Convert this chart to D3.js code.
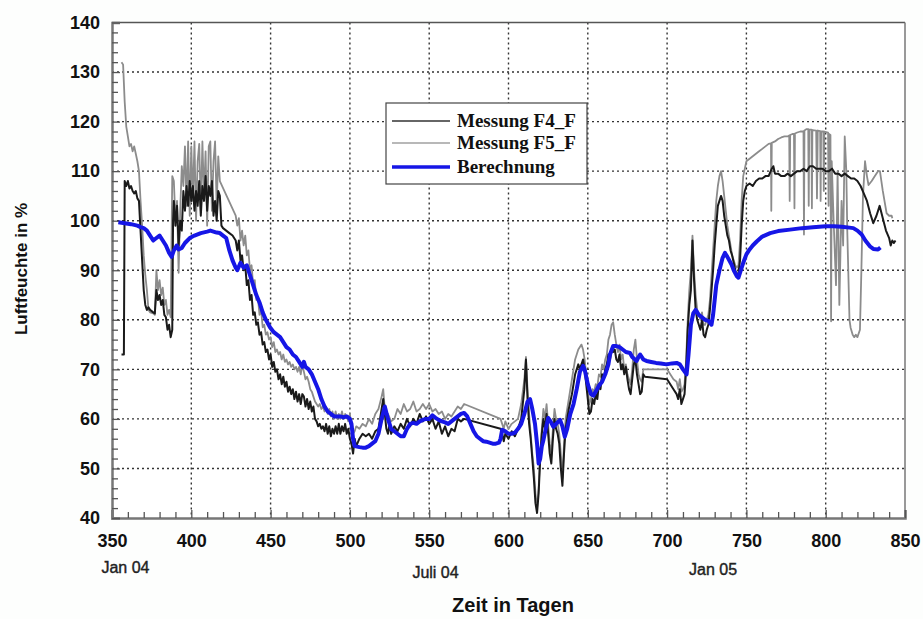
<!DOCTYPE html>
<html>
<head>
<meta charset="utf-8">
<script src="https://cdn.jsdelivr.net/npm/d3@7"></script>
<style>
  html, body { margin: 0; padding: 0; background: #fdfefd; }
  svg { display: block; }
</style>
</head>
<body>
<svg id="chart" width="923" height="619"></svg>
<script>
// ---------------- DATA ----------------
const xTicks = [350, 400, 450, 500, 550, 600, 650, 700, 750, 800, 850];
const yTicks = [40, 50, 60, 70, 80, 90, 100, 110, 120, 130, 140];
const dateLabels = ["Jan 04", "Juli 04", "Jan 05"];
const dateLabelDays = [358.5, 554, 729];
const seriesNames = ["Messung F4_F", "Messung F5_F", "Berechnung"];

// Messung F4_F  [day, %]
const f4 = [
[356,73],[357.5,73],[358,108],[359,107],[360,108],[361,106.5],[362,107],[363,106],[364,105.5],[365,106],[366,104.5],[367,104],
[368,98],[369,92],[370,86],[371,83],[372,82],[373,82.5],[374,82],[376,81.5],[377,81.3],[378,86],[379,84],[380,85],[381,83],
[382,84],[383,81],[384,80.5],[385,78],[386,79],[387,76.5],[388,78],[388.5,100],[389,104],[390,99],[391,103],[392,95],[393,100],
[394,98],[395,106],[396,102],[397,107],[398,103],[399,108],[400,104],[401,107],[402,102],[403,106],[404,103],[405,108],[406,101],
[407,107],[408,104],[409,109],[410,102],[411,107],[412,105],[413,108],[414,101],[415,104],[416,100],[417,106],[418,105],[419,99],
[420,98.5],[422,98],[424,97.5],[426,97],[428,96],[429,94],[430,96],[431,92],[432,93],[433,90],[434,91],[435,87],[436,88],
[437,84],[438,85],[439,81],[440,81.5],[441,79],[442,79.5],[443,77],[444,77.5],[445,75],[446,75.5],[447,73.5],[448,74],[449,72],
[450,73],[451,70.5],[452,71.5],[453,69.5],[454,70],[455,68],[456,69],[457,67],[458,68.5],[459,66.5],[460,67.5],[461,65.5],
[462,66.5],[463,65],[464,66],[465,64],[466,65.5],[467,63.5],[468,65],[469,63],[470,65],[471,64.5],[472,62.5],[473,64],[474,62],
[475,63.5],[476,61.5],[477,62.5],[478,60],[479,59.5],[480,58.5],[481,59],[482,58],[483,58.5],[484,57.5],[485,59],[486,57],
[487,58.5],[488,56.5],[489,58],[490,57],[491,58.5],[492,57],[493,59],[494,57],[495,58.5],[496,57.5],[497,59],[498,57],[499,58],
[500,56],[501,55],[502,53],[503,56],[504,54.5],[506,56],[508,57],[510,56.5],[512,57],[514,56],[516,57.5],[518,58],[520,62],
[521,64],[522,61],[523,58],[524,57],[525,59],[526,57],[528,58.5],[530,57.5],[532,59],[534,58],[536,60],[538,58.5],[540,60],
[542,59],[544,61],[546,59.5],[548,60.5],[550,59],[552,60],[554,58],[556,59.5],[558,57],[560,58.5],[562,56.5],[564,58],[566,57.5],
[568,60],[570,59.5],[572,60],[595,58],[596,57],[597,55.5],[598,57],[600,56],[602,57.5],[604,56.5],[606,58],[608,60],[610,66],
[611,72],[612,64],[613,59],[614,56],[615,52],[616,48],[617,43],[618,41],[619,45],[620,52],[621,57],[622,60],[623,58],[624,61],
[625,57],[626,53],[627,51],[628,56],[629,60],[630,58],[631,57],[632,55],[633,50],[634,46.5],[635,53],[636,58],[638,62],[640,65],
[642,69],[644,71],[645,70],[646,71],[647,72],[648,70],[649,67],[650,64],[651,61],[652,61.5],[653,64],[654,63],[655,65],[656,64],
[657,67],[658,66],[659,69],[660,68],[661,70],[662,71],[663,73],[664,72],[665,74],[666,73.5],[667,74],[668,72],[669,71.5],[670,73],
[671,70],[672,71],[673,69],[674,70.5],[675,68],[676,66],[677,65],[678,68],[679,71],[680,72],[681,69],[682,67],[683,65],[684,65.5],
[685,69],[686,68.5],[700,68],[702,67],[704,66],[706,65],[707,64],[708,66],[709,63],[710,64],[711,65],[712,70],[713,78],[714,83],
[715,86],[716,96],[717,88],[718,82],[719,80],[720,79],[721,78],[722,80],[723,77],[724,76.5],[725,78],[726,79],[727,82],[728,86],
[729,90],[730,95],[731,99],[732,103],[733,104],[734,105],[735,104],[736,101],[737,99],[738,97],[739,96],[740,94],[741,93],
[742,91.5],[743,90],[744,89],[745,89.5],[746,92],[747,99],[748,104],[749,106],[750,107],[752,107.5],[754,107],[756,108],
[758,108.5],[760,108.5],[762,109],[764,109],[766,110.5],[767,111],[768,109.5],[770,109.5],[772,109],[774,109],[776,109.5],
[778,109],[780,109.5],[782,110],[784,110],[786,110.5],[788,110],[790,111],[792,111],[794,110.5],[796,110.5],[798,110.5],[800,110],
[802,110],[804,110.5],[806,109.5],[808,109.5],[810,109],[812,109.5],[814,109],[816,108.5],[818,108.5],[820,108],[822,107],
[824,105.5],[826,104],[828,101.5],[830,99.5],[832,101],[834,103],[836,100.5],[838,98],[840,96.5],[841,95],[842,96],[843,95.5],[844,96]
];

// Messung F5_F  [day, %]
const f5 = [
[356,132],[357,131.5],[358,124],[359,119],[360,117],[361,115],[362,115.5],[363,114],[364,115],[365,113.5],[366,112],[367,110],
[368,104],[369,99],[370,93],[371,89],[372,86],[373,82],[374,81.5],[376,81.3],[377,81],[378,90],[379,86],[380,88],[381,85],
[382,86.5],[383,83],[384,84],[385,81],[386,82],[387,80.5],[388,109],[389,108],[390,100],[391,104],[392,89.5],[393,102],[394,111],
[395,107],[396,115],[397,103],[398,116],[399,101],[400,115],[401,104],[402,116],[403,100],[404,112],[405,115.5],[406,102],
[407,116],[408,105],[409,114],[410,99],[411,115],[412,116],[413,102],[414,112],[415,116],[416,103],[417,113],[418,108],[428,101],
[429,99],[430,100.5],[431,96],[432,98],[433,95],[434,97],[435,93],[436,94],[437,90],[438,91],[439,87],[440,88],[441,84],[442,84.5],
[443,81],[444,82],[445,78.5],[446,79],[447,77],[448,77.5],[449,76],[450,76.5],[451,74.5],[452,75.5],[453,73.5],[454,74],[455,73],
[456,73.5],[457,72],[458,73],[459,71.5],[460,72],[461,71],[462,71.5],[463,70.5],[464,71],[465,70],[466,70.5],[467,69.5],[468,70.5],
[469,69],[470,71],[471,69.5],[472,68],[473,68.5],[474,67.5],[475,66],[476,65.5],[477,64.5],[478,63.5],[479,63],[480,62.5],[481,63],
[482,62],[483,62.5],[484,61.5],[485,62.5],[486,61],[487,62],[488,60.5],[489,61.5],[490,60],[491,61.5],[492,60],[493,61],[494,60],
[495,61.5],[496,60],[497,61],[498,60.5],[499,59.5],[500,61],[501,58],[502,57],[503,57.5],[504,58.5],[506,58],[508,59],[510,58.5],
[512,60],[514,59],[516,61],[518,62],[520,64.5],[521,66],[522,62],[523,60],[524,61],[526,59.5],[528,60],[530,62],[532,61],[534,63],
[536,61.5],[538,62],[540,63.5],[542,61.5],[544,62],[546,63],[548,62],[550,63],[552,61.5],[554,62],[556,61],[558,61.5],[560,60],
[562,61],[564,60.5],[566,61.5],[568,62.5],[570,62],[572,63],[595,60],[596,59],[597,58],[598,59.5],[600,58],[602,59],[604,59.5],
[606,60],[608,63],[610,68],[611,72.5],[612,66],[613,61],[614,57],[615,53],[616,50],[617,45],[618,42],[619,46],[620,53],[621,58],
[622,62],[623,60],[624,63],[625,59],[626,55],[627,53],[628,58],[629,62],[630,60],[631,59],[632,57],[633,53],[634,48],[635,55],
[636,60],[638,64],[640,68],[642,72],[644,74],[645,74.5],[646,75],[647,74],[648,72],[649,69],[650,66],[651,63],[652,64],[653,66],
[654,65.5],[655,67],[656,66.5],[657,69],[658,68.5],[659,71],[660,70],[661,72],[662,73],[663,76],[664,77],[665,79],[666,79.5],
[667,77],[668,75],[669,73.5],[670,75],[671,72],[672,73],[673,70],[674,71],[675,69],[676,68],[677,67],[678,70],[679,74],[680,76],
[681,72],[682,69],[683,68],[684,67.5],[685,70],[686,70],[700,70],[702,69],[704,68],[706,67.5],[707,66],[708,68],[709,65.5],
[710,66],[711,67],[712,72],[713,80],[714,86],[715,90],[716,97],[717,90],[718,85],[719,82],[720,81],[721,80],[722,81.5],[723,79],
[724,79],[725,80],[726,81],[727,84],[728,89],[729,94],[730,99],[731,104],[732,107],[733,109],[734,110],[735,108],[736,105],
[737,102],[738,99],[739,97],[740,95],[741,93],[742,92],[743,91],[744,90.5],[745,91],[746,96],[747,104],[748,109],[749,110.5],
[750,112],[752,112.5],[754,113],[756,113.5],[758,114],[760,114.5],[762,115],[764,115.5],[765.5,115.6],[765.7,102],[766,115.7],
[768,116],[770,116.5],[772,116.8],[774,117],[776,117],[777,117.2],[777.3,104],[777.6,117.3],[779,117.5],[780,117.5],[780.3,102.5],
[780.6,117.6],[782,117.8],[784,118],[786,118],[786.3,97.2],[786.6,118.2],[788,118.5],[789,118.5],[789.3,103],[789.6,118.4],
[791,118.4],[791.3,102.5],[791.6,118.3],[794,118.2],[794.5,104.5],[795,118.2],[796.5,118.1],[796.8,104],[797.1,118],[798.5,118],
[798.8,106],[799.1,118],[801.5,117.8],[801.8,103],[802.1,117.5],[803,117.3],[803.4,79.7],[803.8,112],[805,100],[806.5,87],
[807.5,110],[808.6,83],[810,104],[811,95],[812,117],[813,110],[813.6,98],[815,80],[815.7,78.4],[817,77],[818,76.5],[819,77],
[820,76.5],[821.6,78],[822.5,90],[823.5,105],[824.8,112],[826,109],[827,107.2],[829,108],[831,109],[833,110],[834.2,110],
[836,106],[838.4,101.5],[840,101],[841.6,101],[842,100.5]
];

// Berechnung  [day, %]
const calc = [
[354,99.7],[358,99.5],[362,99.3],[366,99],[368,98.7],[370,98.5],[372,98],[374,97],[376,96],[378,96.5],[380,97],[382,96],[384,95],
[386,93.5],[387.6,92.7],[389,94],[390.8,95],[392,94.2],[394,94.5],[396,95.5],[399,96.5],[402,97],[406,97.5],[410,97.8],[412,98],
[414,97.8],[416,97.6],[418,97.5],[420,97],[422,96.5],[424,94],[426,92],[428,90.5],[429,90],[431,91.5],[433,90.5],[435,91],[437,89],
[439,87],[441,85],[443,83.5],[445,81.5],[447,80],[449.6,78.5],[452,77.5],[454,77],[456,76.5],[458,75.5],[460,74.5],[462,74],
[464,73],[466,72.5],[468,71.5],[470,70.5],[471,71.5],[472,70.5],[474,70],[476,69],[478,67.5],[480,66],[482,64],[484,62.5],
[486,61.5],[488,61],[490,60.5],[492,60.5],[494,60.5],[496,60.3],[498,60.5],[500,60],[501,59],[502,56],[503,54.5],[506,54.3],
[508,54.2],[510,54.2],[512,54.5],[514,55],[516,55.5],[518,57],[520,60],[522,62.5],[524,60],[526,58],[528,57.5],[530,57],
[532,56.5],[534,56.5],[536,58],[538,59],[540,59.2],[542,59],[544,59.5],[546,59.8],[548,60],[550,60],[552,60.7],[554,60.2],
[556,59.8],[558,59.5],[560,59.3],[562,59],[564,59.5],[566,60],[568,60.5],[570,61],[572,61.2],[574,60.5],[576,59],[578,57.5],
[580,56.5],[582,56],[584,55.5],[586,55.4],[588,55.2],[590,55],[592,55],[594,55.2],[595,56],[596,57.8],[598,57.5],[600,57],
[602,57],[604,57.2],[606,58],[608,59],[610,61],[612,63.5],[613.6,64],[615,62],[616.7,59],[618,55],[619,51],[620,52],[621,54.5],
[622,55.7],[623.5,58],[625,60.2],[626.5,59.5],[628.3,58.4],[630,59],[632.5,59.8],[634,58.5],[635.5,56.4],[637,58],[639,61],
[641,63],[643,66],[645,69.5],[647,70.7],[648,70],[650,67],[652,65],[653.5,64.7],[655,65.5],[657,66.7],[659,67.5],[661,69],
[663,71],[664,73],[666,74.7],[668,74.7],[670,74.5],[672,74],[674,73.5],[676.6,73.3],[678,72.5],[680.8,71.7],[682,72.5],[683,73],
[685,72],[687,71.7],[690,71.5],[693,71.3],[696,71.2],[699.7,71],[703,71.2],[706,71.3],[708,71],[710,70],[712.3,69],[713.5,73],
[715,79],[716.5,81.3],[718,82],[720,81],[722,80.5],[724,80],[726,79.8],[728,79],[729,81],[730,84],[731,87],[733,90],[735,92.5],
[736.5,93.5],[738,92.7],[740.7,91.1],[742,90],[744,88.8],[745,88.5],[746,89.5],[748,91.5],[750,93.2],[752,94.2],[754,95],
[756.5,95.8],[760,96.8],[765,97.5],[770,97.9],[777.5,98.2],[785,98.5],[792,98.7],[800,98.9],[805,98.9],[810,98.8],[815,98.6],
[817.4,98.5],[820,98],[822.7,97.2],[825,96],[828,94.8],[830,94.3],[833,94.2],[834.5,94.6]
];

// ---------------- DRAWING ----------------
const svg = d3.select("#chart");
const X0 = 112, X1 = 905, Y0 = 518, Y1 = 22.5;
const x = d3.scaleLinear().domain([350, 850]).range([X0, X1]);
const y = d3.scaleLinear().domain([40, 140]).range([Y0, Y1]);

svg.append("rect").attr("width", 923).attr("height", 619).attr("fill", "#fdfefd");
svg.append("rect").attr("x", X0).attr("y", Y1).attr("width", X1 - X0).attr("height", Y0 - Y1).attr("fill", "#ffffff");

// grid
const grid = svg.append("g").attr("stroke", "#333").attr("stroke-width", 1.4).attr("stroke-dasharray", "2,3");
grid.selectAll("line.h").data(yTicks.slice(1, -1)).join("line")
  .attr("x1", X0).attr("x2", X1).attr("y1", d => y(d)).attr("y2", d => y(d));
grid.selectAll("line.v").data(xTicks.slice(1, -1)).join("line")
  .attr("y1", Y1).attr("y2", Y0).attr("x1", d => x(d)).attr("x2", d => x(d));

// frame top/right
svg.append("line").attr("x1", X0).attr("x2", X1).attr("y1", Y1).attr("y2", Y1).attr("stroke", "#555").attr("stroke-width", 1.5);
svg.append("line").attr("x1", X1).attr("x2", X1).attr("y1", Y1).attr("y2", Y0).attr("stroke", "#777").attr("stroke-width", 1.5);

// axes
const fontSans = "'Liberation Sans', Arial, sans-serif";
const xAxis = d3.axisBottom(x).tickValues(xTicks).tickSize(-8).tickPadding(16).tickFormat(d3.format("d"));
const gx = svg.append("g").attr("transform", `translate(0,${Y0})`).call(xAxis);
const xMinor = d3.axisBottom(x).tickValues(d3.range(360, 850, 10).filter(v => v % 50 !== 0)).tickSize(-6).tickFormat("");
svg.append("g").attr("transform", `translate(0,${Y0})`).call(xMinor).call(g => g.select(".domain").remove());

const yAxis = d3.axisLeft(y).tickValues(yTicks).tickSize(-8).tickPadding(12).tickFormat(d3.format("d"));
const gy = svg.append("g").attr("transform", `translate(${X0},0)`).call(yAxis);
const yMinor = d3.axisLeft(y).tickValues(d3.range(42, 140, 2).filter(v => v % 10 !== 0)).tickSize(-6).tickFormat("");
svg.append("g").attr("transform", `translate(${X0},0)`).call(yMinor).call(g => g.select(".domain").remove());

svg.selectAll(".tick line").attr("stroke", "#555").attr("stroke-width", 1.3);
[gx, gy].forEach(g => {
  g.select(".domain").attr("stroke", "#777").attr("stroke-width", 2.5);
  g.selectAll(".tick text").attr("font-family", fontSans).attr("font-weight", "bold")
   .attr("font-size", 18).attr("fill", "#111");
});

// series lines
const line = d3.line().x(d => x(d[0])).y(d => y(d[1]));
const plot = svg.append("g");
plot.append("path").datum(f5).attr("d", line).attr("fill", "none")
  .attr("stroke", "#8c8c8c").attr("stroke-width", 1.8).attr("stroke-linejoin", "round");
plot.append("path").datum(f4).attr("d", line).attr("fill", "none")
  .attr("stroke", "#1a1a1a").attr("stroke-width", 2).attr("stroke-linejoin", "round");
plot.append("path").datum(calc).attr("d", line).attr("fill", "none")
  .attr("stroke", "#1616e6").attr("stroke-width", 4).attr("stroke-linejoin", "round");

// date labels under axis
const dateBase = [573, 578, 575];
svg.selectAll("text.date").data(dateLabels).join("text")
  .attr("x", (d, i) => x(dateLabelDays[i])).attr("y", (d, i) => dateBase[i])
  .attr("text-anchor", "middle").attr("font-family", fontSans).attr("font-size", 16)
  .attr("fill", "#222").attr("stroke", "#222").attr("stroke-width", 0.4).text(d => d);

// axis titles
svg.append("text").attr("x", 513).attr("y", 612).attr("text-anchor", "middle")
  .attr("font-family", fontSans).attr("font-weight", "bold").attr("font-size", 20).attr("fill", "#111")
  .text("Zeit in Tagen");
svg.append("text").attr("transform", "translate(27,269) rotate(-90)").attr("text-anchor", "middle")
  .attr("font-family", fontSans).attr("font-weight", "bold").attr("font-size", 17).attr("fill", "#111")
  .text("Luftfeuchte in %");

// legend
const lg = svg.append("g");
lg.append("rect").attr("x", 386).attr("y", 103).attr("width", 201).attr("height", 81)
  .attr("fill", "#fff").attr("stroke", "#444").attr("stroke-width", 1.2);
const legColors = ["#666", "#a0a0a0", "#1616e6"];
const legWidths = [1.8, 1.5, 3.5];
const legY = [121, 143, 167];
seriesNames.forEach((n, i) => {
  lg.append("line").attr("x1", 392).attr("x2", 450).attr("y1", legY[i]).attr("y2", legY[i])
    .attr("stroke", legColors[i]).attr("stroke-width", legWidths[i]);
  lg.append("text").attr("x", 457).attr("y", legY[i] + 6)
    .attr("font-family", "'Liberation Serif', 'Times New Roman', serif").attr("font-weight", "bold")
    .attr("font-size", 19).attr("fill", "#111").text(n);
});
</script>
</body>
</html>
